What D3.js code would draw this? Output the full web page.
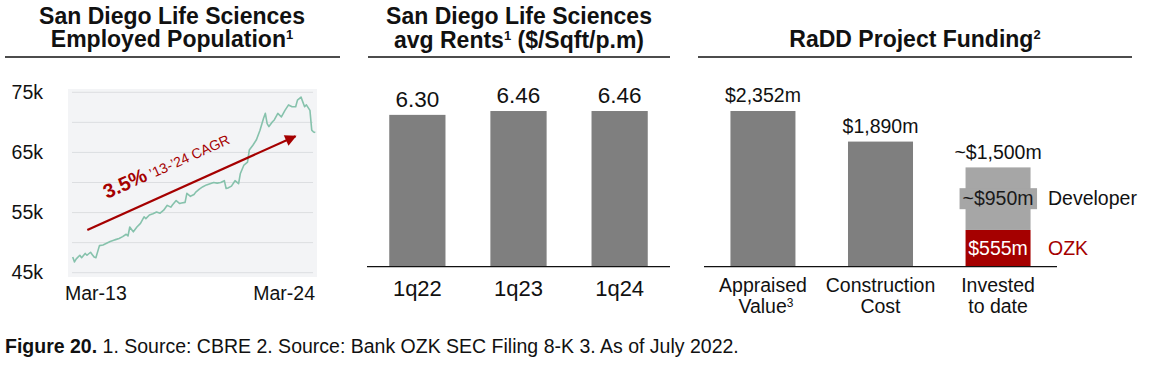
<!DOCTYPE html>
<html>
<head>
<meta charset="utf-8">
<script src="https://cdn.jsdelivr.net/npm/d3@7"></script>
<style>
  html, body { margin: 0; padding: 0; background: #ffffff; }
  svg { display: block; font-family: "Liberation Sans", Arial, Helvetica, sans-serif; }
</style>
</head>
<body>
<svg id="chart" width="1149" height="367"></svg>
<script>
// ---------- DATA ----------
// Panel 1: San Diego life sciences employed population (thousands), months since Mar-2013
const empMonths = [0,1,2,4,5,7,8,10,11,12,13,15,17,19,21,23,24,26,28,30,31,32,33,34,36,38,40,41,43,45,47,49,51,53,55,56,58,60,61,63,64,66,68,69,71,73,75,77,79,81,83,85,86,87,89,91,93,94,96,98,99,101,103,105,107,108,109,110,112,113,115,117,119,121,123,125,126,128,130,131,133,134,135,136];
const empValues = [47.6,46.8,47.3,47.9,47.5,48.2,47.9,48.4,48.0,47.6,47.5,49.5,49.6,49.9,50.2,50.4,50.5,50.7,51.0,51.4,51.1,52.6,52.2,51.8,52.6,53.2,54.3,54.0,54.6,54.8,55.1,54.9,55.4,56.2,55.9,56.3,57.0,56.5,56.6,56.7,58.2,57.7,58.0,58.4,58.9,59.3,59.6,59.8,60.0,59.9,60.0,60.3,59.0,59.1,59.4,60.3,59.8,61.5,62.9,63.4,65.4,66.2,67.1,68.7,70.7,71.5,69.8,69.3,70.1,70.4,71.5,70.9,72.0,72.9,72.6,72.6,73.7,74.2,72.6,72.9,72.0,68.7,68.4,68.3];
const empTicks = [45, 55, 65, 75];
const empGrid = [45, 50, 55, 60, 65, 70, 75];
const empXLabels = ["Mar-13", "Mar-24"];
const cagrBold = "3.5%";
const cagrText = " ’13-’24 CAGR";

// Panel 2: avg rents ($/sqft/p.m)
const rentCats = ["1q22", "1q23", "1q24"];
const rentValues = [6.30, 6.46, 6.46];
const rentLabels = ["6.30", "6.46", "6.46"];

// Panel 3: RaDD project funding ($m)
const fundCats = [["Appraised", "Value", "3"], ["Construction", "Cost", ""], ["Invested", "to date", ""]];
const fundTotals = [2352, 1890, 1500];
const fundLabels = ["$2,352m", "$1,890m", "~$1,500m"];
const investedOzk = 555;
const investedDev = 945;
const ozkLabel = "$555m";
const devLabel = "~$950m";
const legendNames = ["Developer", "OZK"];

const footerBold = "Figure 20.";
const footerText = " 1. Source: CBRE 2. Source: Bank OZK SEC Filing 8-K 3. As of July 2022.";

// ---------- STYLE ----------
const BAR = "#7f7f7f", DEV = "#a6a6a6", RED = "#a50000", LINE = "#86c2ac";
const svg = d3.select("#chart");

function title(cx, lines) {
  lines.forEach(l => {
    const t = svg.append("text").attr("x", cx).attr("y", l.y).attr("text-anchor", "middle")
      .attr("font-size", 23).attr("font-weight", "bold").attr("fill", "#111");
    t.append("tspan").text(l.a);
    if (l.sup) t.append("tspan").attr("font-size", 13).attr("dy", -8).text(l.sup);
    if (l.b) t.append("tspan").attr("dy", 8).text(l.b);
  });
}
function rule(x1, x2, y) {
  svg.append("line").attr("x1", x1).attr("x2", x2).attr("y1", y).attr("y2", y)
    .attr("stroke", "#111").attr("stroke-width", 1.3);
}

// ---------- PANEL 1 ----------
title(172, [{y: 24, a: "San Diego Life Sciences"}, {y: 47, a: "Employed Population", sup: "1"}]);
rule(5, 340, 57);

const p1 = {left: 68, right: 317, top: 89, bottom: 277};
svg.append("rect").attr("x", p1.left).attr("y", p1.top)
  .attr("width", p1.right - p1.left).attr("height", p1.bottom - p1.top).attr("fill", "#f3f4f6");

const x1 = d3.scaleLinear().domain([0, 136]).range([72.7, 315.3]);
const y1 = d3.scaleLinear().domain([45, 75]).range([272.7, 92.3]);

svg.append("g").selectAll("line").data(empGrid).join("line")
  .attr("x1", p1.left + 4).attr("x2", p1.right - 4)
  .attr("y1", d => y1(d)).attr("y2", d => y1(d))
  .attr("stroke", "#dcdee1").attr("stroke-width", 1);

const yAxis1 = svg.append("g").attr("transform", `translate(${p1.left},0)`)
  .call(d3.axisLeft(y1).tickValues(empTicks).tickFormat(d => d + "k").tickSize(0).tickPadding(25));
yAxis1.select(".domain").remove();
yAxis1.selectAll("text").attr("font-size", 19.5).attr("fill", "#111")
  .attr("font-family", "'Liberation Sans', Arial, sans-serif");

const empData = empMonths.map((m, i) => [m, empValues[i]]);
svg.append("path").datum(empData)
  .attr("d", d3.line().x(d => x1(d[0])).y(d => y1(d[1])))
  .attr("fill", "none").attr("stroke", LINE).attr("stroke-width", 1.6).attr("stroke-linejoin", "round");

svg.append("text").attr("x", p1.left - 3).attr("y", 300).attr("font-size", 19.5).attr("fill", "#111").text(empXLabels[0]);
svg.append("text").attr("x", p1.right - 2).attr("y", 300).attr("text-anchor", "end").attr("font-size", 19.5).attr("fill", "#111").text(empXLabels[1]);

// CAGR arrow
const defs = svg.append("defs");
defs.append("marker").attr("id", "arrow").attr("viewBox", "0 0 10 10").attr("refX", 9).attr("refY", 5)
  .attr("markerWidth", 6).attr("markerHeight", 5.2).attr("orient", "auto").attr("markerUnits", "strokeWidth")
  .append("path").attr("d", "M0,0 L10,5 L0,10 Z").attr("fill", RED);
svg.append("line").attr("x1", 87.3).attr("y1", 230).attr("x2", 295.5).attr("y2", 136.2)
  .attr("stroke", RED).attr("stroke-width", 2.2).attr("marker-end", "url(#arrow)");
const ct = svg.append("text").attr("transform", "translate(107,199) rotate(-24.3)").attr("fill", RED);
ct.append("tspan").attr("font-size", 20).attr("font-weight", "bold").text(cagrBold);
ct.append("tspan").attr("font-size", 14).text(cagrText);

// ---------- PANEL 2 ----------
title(519, [{y: 24, a: "San Diego Life Sciences"}, {y: 48, a: "avg Rents", sup: "1", b: " ($/Sqft/p.m)"}]);
rule(368, 670, 57);

const base = 266.7;
const x2 = d3.scaleBand().domain(rentCats).range([367, 670]).paddingInner(0.444).paddingOuter(0.22);
const y2 = d3.scaleLinear().domain([0, 10]).range([base, base - 241]);

svg.append("g").selectAll("rect").data(rentValues).join("rect")
  .attr("x", (d, i) => x2(rentCats[i])).attr("width", x2.bandwidth())
  .attr("y", d => y2(d)).attr("height", d => base - y2(d)).attr("fill", BAR);
svg.append("g").selectAll("text").data(rentValues).join("text")
  .attr("x", (d, i) => x2(rentCats[i]) + x2.bandwidth() / 2).attr("y", d => y2(d) - 8.3)
  .attr("text-anchor", "middle").attr("font-size", 22.5).attr("fill", "#111").text((d, i) => rentLabels[i]);
const xAxis2 = svg.append("g").attr("transform", `translate(0,${base})`)
  .call(d3.axisBottom(x2).tickSize(0).tickPadding(0));
xAxis2.select(".domain").remove();
xAxis2.selectAll("text").attr("font-size", 22).attr("fill", "#111").attr("dy", null).attr("y", 29.3)
  .attr("font-family", "'Liberation Sans', Arial, sans-serif");
rule(367, 670, base);

// ---------- PANEL 3 ----------
title(915, [{y: 47, a: "RaDD Project Funding", sup: "2"}]);
rule(698, 1132, 57);

const catKeys = fundCats.map(c => c[0]);
const x3 = d3.scaleBand().domain(catKeys).range([704, 1057]).paddingInner(0.447).paddingOuter(0.225);
const y3 = d3.scaleLinear().domain([0, 2500]).range([base, base - 165.5]);

// full bars (first two)
svg.append("g").selectAll("rect").data(fundTotals.slice(0, 2)).join("rect")
  .attr("x", (d, i) => x3(catKeys[i])).attr("width", x3.bandwidth())
  .attr("y", d => y3(d)).attr("height", d => base - y3(d)).attr("fill", BAR);
// stacked invested bar
const stack = d3.stack().keys(["ozk", "dev"])([{ozk: investedOzk, dev: investedDev}]);
const stackColors = {ozk: RED, dev: DEV};
svg.append("g").selectAll("rect").data(stack).join("rect")
  .attr("x", x3(catKeys[2])).attr("width", x3.bandwidth())
  .attr("y", d => y3(d[0][1])).attr("height", d => y3(d[0][0]) - y3(d[0][1]))
  .attr("fill", d => stackColors[d.key]);

svg.append("g").selectAll("text").data(fundTotals).join("text")
  .attr("x", (d, i) => x3(catKeys[i]) + x3.bandwidth() / 2).attr("y", d => y3(d) - 8.5)
  .attr("text-anchor", "middle").attr("font-size", 19.5).attr("fill", "#111").text((d, i) => fundLabels[i]);

const cx3 = x3(catKeys[2]) + x3.bandwidth() / 2;
// developer label with box
const devMid = (y3(investedOzk) + y3(investedOzk + investedDev)) / 2;
svg.append("rect").attr("x", cx3 - 38.5).attr("y", devMid - 10.5).attr("width", 77.5).attr("height", 21).attr("fill", DEV);
svg.append("text").attr("x", cx3).attr("y", devMid + 6.5).attr("text-anchor", "middle")
  .attr("font-size", 19.5).attr("fill", "#1a1a1a").text(devLabel);
const ozkMid = (y3(0) + y3(investedOzk)) / 2;
svg.append("text").attr("x", cx3).attr("y", ozkMid + 7).attr("text-anchor", "middle")
  .attr("font-size", 19.5).attr("fill", "#fff").text(ozkLabel);
svg.append("text").attr("x", 1048).attr("y", devMid + 6).attr("font-size", 19.5).attr("fill", "#111").text(legendNames[0]);
svg.append("text").attr("x", 1048).attr("y", ozkMid + 7).attr("font-size", 19.5).attr("fill", RED).text(legendNames[1]);

rule(704, 1057, base);

// category labels
fundCats.forEach((c, i) => {
  const cx = x3(c[0]) + x3.bandwidth() / 2;
  svg.append("text").attr("x", cx).attr("y", 291.7).attr("text-anchor", "middle")
    .attr("font-size", 19.5).attr("fill", "#111").text(c[0]);
  const t = svg.append("text").attr("x", cx + (c[2] ? 3 : 0)).attr("y", 313.3).attr("text-anchor", "middle")
    .attr("font-size", 19.5).attr("fill", "#111");
  t.append("tspan").text(c[1]);
  if (c[2]) t.append("tspan").attr("font-size", 12).attr("dy", -6).text(c[2]);
});

// ---------- FOOTER ----------
const ft = svg.append("text").attr("x", 5).attr("y", 353).attr("font-size", 19.5).attr("fill", "#111");
ft.append("tspan").attr("font-weight", "bold").text(footerBold);
ft.append("tspan").text(footerText);
</script>
</body>
</html>
